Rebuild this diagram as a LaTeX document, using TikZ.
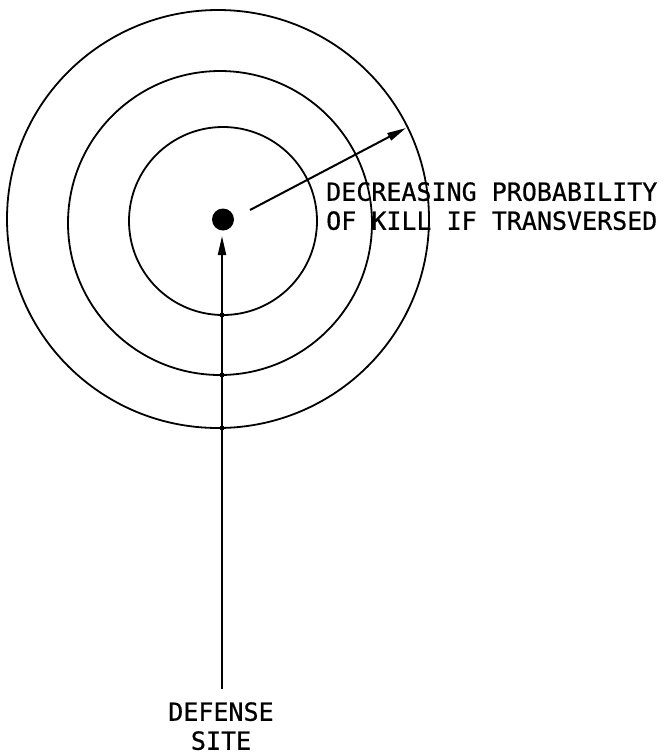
\documentclass[tikz,border=0pt]{standalone}
\usepackage{fontspec}
\newfontfamily\lettering[FakeBold=0.6]{DejaVu Sans Mono}
\usetikzlibrary{arrows.meta}
\tikzset{
  ring/.style={draw=black, line width=1.8pt},
  ptr/.style={draw=black, line width=2pt, -{Triangle[length=19pt,width=8pt]}},
  lbl/.style={font=\lettering\fontsize{25}{29}\selectfont, inner sep=0pt, align=center},
  junction/.style={circle, fill=black, inner sep=0pt, minimum size=5pt}
}
\begin{document}
\begin{tikzpicture}[x=1pt,y=-1pt]
\useasboundingbox (0,0) rectangle (671,756);
% rings
\draw[ring] (218,219) ellipse [x radius=211, y radius=209];
\draw[ring] (220,223) circle [radius=152];
\draw[ring] (223,221) circle [radius=94];
% defense site dot
\node[circle, fill=black, inner sep=0pt, minimum size=22pt] (site) at (223,219.5) {};
% labels
\node[lbl, anchor=north] (deflbl) at (221,702) {DEFENSE\\SITE};
\node[lbl, anchor=north west, align=left] (killlbl) at (326,182) {DECREASING PROBABILITY\\OF KILL IF TRANSVERSED};
% vertical pointer from label to site
\coordinate (vtop) at (222,236);
\coordinate (vbot) at (222,689);
\draw[ptr] (vbot) -- (vtop);
% junction marks on the rings
\node[junction] (j1) at (222,315) {};
\node[junction] (j2) at (222,375) {};
\node[junction] (j3) at (222,428) {};
% radial pointer
\coordinate (rstart) at (250,210);
\coordinate (rend) at (406,128);
\draw[ptr] (rstart) -- (rend);
\end{tikzpicture}
\end{document}
